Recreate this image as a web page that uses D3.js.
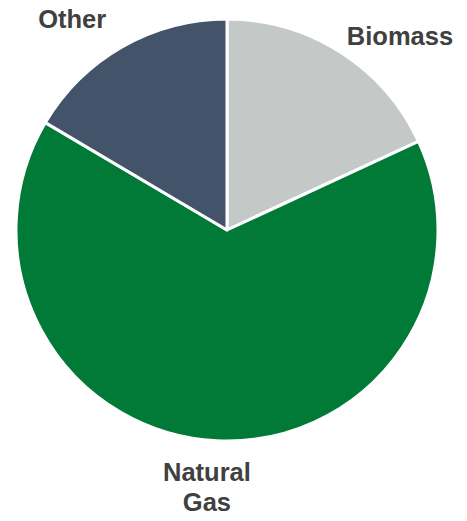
<!DOCTYPE html>
<html>
<head>
<meta charset="utf-8">
<script src="https://cdn.jsdelivr.net/npm/d3@7"></script>
<style>
  body { margin: 0; background: #fff; }
  .label { font-family: "Liberation Sans", Arial, sans-serif; font-weight: bold; font-size: 25.5px; fill: #404040; }
</style>
</head>
<body>
<div class="chart"></div>
<script>
// Data (percent share)
var categories = ["Biomass", "Natural Gas", "Other"];
var shares = [18.1, 65.4, 16.5];
var colors = ["#c4c9c8", "#007a36", "#435369"];

var svgWidth = 467;
var svgHeight = 521;
var radius = 211;
var cx = 227, cy = 230;

var svg = d3.select(".chart").append("svg")
    .attr("width", svgWidth)
    .attr("height", svgHeight);

var chart = svg.append("g")
    .attr("transform", `translate(${cx}, ${cy})`);

var rows = categories.map(function(c, i) {
    return { name: c, value: shares[i], color: colors[i] };
});

var pie = d3.pie()
    .sort(null)
    .value(function(d) { return d.value; });

var arc = d3.arc().innerRadius(0).outerRadius(radius);
var labelArc = d3.arc().innerRadius(260).outerRadius(260);

var arcs = pie(rows);

chart.selectAll("path")
    .data(arcs)
    .enter()
    .append("path")
    .attr("d", arc)
    .attr("fill", function(d) { return d.data.color; })
    .attr("stroke", "#fff")
    .attr("stroke-width", 3)
    .attr("stroke-linejoin", "round");

// small nudges so labels sit like the original
var nudge = { "Biomass": [33, 25], "Natural Gas": [-7, -3], "Other": [-26, 15] };

var labels = chart.selectAll("text.label")
    .data(arcs)
    .enter()
    .append("text")
    .attr("class", "label")
    .attr("text-anchor", "middle")
    .attr("transform", function(d) {
        var c = labelArc.centroid(d);
        var n = nudge[d.data.name];
        return `translate(${c[0] + n[0]}, ${c[1] + n[1]})`;
    });

labels.each(function(d) {
    var words = d.data.name === "Natural Gas" ? ["Natural", "Gas"] : [d.data.name];
    var lineH = 30;
    var start = -(words.length - 1) * lineH / 2;
    var t = d3.select(this);
    words.forEach(function(w, i) {
        t.append("tspan")
            .attr("x", 0)
            .attr("y", start + i * lineH)
            .attr("dy", "0.35em")
            .text(w);
    });
});
</script>
</body>
</html>
